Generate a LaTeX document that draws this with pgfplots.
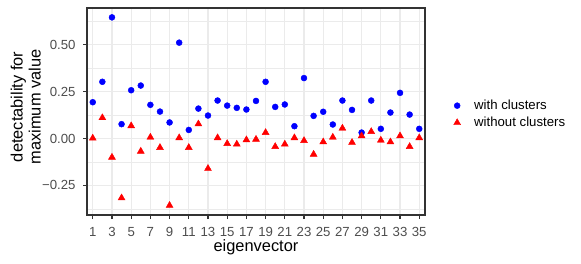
\documentclass[border=0pt]{standalone}
\usepackage{fontspec}
\setmainfont{Liberation Sans}
\usepackage{pgfplots}
\pgfplotsset{compat=1.18}
\definecolor{gridc}{HTML}{EBEBEB}
\definecolor{tickc}{HTML}{4D4D4D}
\definecolor{borderc}{HTML}{333333}
\begin{document}
\begin{tikzpicture}
\path[use as bounding box] (0,0) rectangle (581bp,264bp);
\begin{axis}[
  at={(87bp,49bp)}, anchor=south west,
  scale only axis, width=338bp, height=207bp,
  xmin=0.4, xmax=35.6, ymin=-0.408, ymax=0.697,
  xtick={1,3,...,35},
  ytick={-0.25,0,0.25,0.5},
  yticklabels={−0.25,0.00,0.25,0.50},
  minor ytick={-0.375,-0.125,0.125,0.375,0.625},
  grid=both,
  major grid style={gridc, line width=1.1bp},
  minor grid style={gridc, line width=0.55bp},
  axis line style={borderc, line width=1.1bp},
  tick style={borderc, line width=1.1bp},
  tick align=outside, major tick length=4bp, minor tick length=0pt,
  xtick pos=bottom, ytick pos=left,
  /pgf/number format/assume math mode=true,
  ticklabel style={font=\fontsize{13.2bp}{15bp}\selectfont, text=tickc},
  xticklabel style={anchor=base, yshift=-17bp},
  yticklabel style={anchor=east, xshift=-4bp},
  xlabel={eigenvector},
  ylabel={detectability for\\maximum value},
  label style={font=\fontsize{16.4bp}{18bp}\selectfont},
  xlabel style={at={(axis description cs:0.5,-0.176)}, anchor=base, inner sep=0pt},
  ylabel style={at={(axis description cs:-0.136,0.522)}, anchor=south, align=center, inner sep=0pt},
  legend image code/.code={\path[draw=none, fill=none] (0bp,0bp) -- (24bp,0bp); \draw[#1] plot coordinates {(9bp,0bp)};},
  legend style={draw=none, fill=none, inner sep=0pt, at={(axis description cs:1.068,0.487)}, anchor=west,
    font=\fontsize{13.2bp}{15bp}\selectfont, row sep=2bp, legend cell align=left},
]
\addlegendimage{only marks, mark=*, mark size=3bp, color=blue}
\addlegendentry{with clusters}
\addlegendimage{only marks, mark=triangle*, mark size=4bp, color=red}
\addlegendentry{without clusters}
\addplot[forget plot, only marks, mark=*, mark size=3bp, color=blue] coordinates {
(1,0.194) (2,0.303) (3,0.647) (4,0.077) (5,0.258) (6,0.283) (7,0.180) (8,0.144) (9,0.086) (10,0.512)
(11,0.046) (12,0.160) (13,0.123) (14,0.203) (15,0.176) (16,0.164) (17,0.155) (18,0.201) (19,0.303) (20,0.169)
(21,0.182) (22,0.066) (23,0.323) (24,0.121) (25,0.143) (26,0.075) (27,0.203) (28,0.153) (29,0.032) (30,0.203)
(31,0.052) (32,0.139) (33,0.244) (34,0.128) (35,0.052)
};
\addplot[forget plot, only marks, mark=triangle*, mark size=4bp, color=red] coordinates {
(1,0.002) (2,0.111) (3,-0.100) (4,-0.317) (5,0.068) (6,-0.068) (7,0.007) (8,-0.048) (9,-0.357) (10,0.004)
(11,-0.048) (12,0.078) (13,-0.160) (14,0.004) (15,-0.027) (16,-0.030) (17,-0.007) (18,-0.004) (19,0.032) (20,-0.043)
(21,-0.030) (22,0.004) (23,-0.011) (24,-0.084) (25,-0.018) (26,0.007) (27,0.055) (28,-0.021) (29,0.014) (30,0.037)
(31,-0.009) (32,-0.018) (33,0.014) (34,-0.043) (35,0.004)
};
\end{axis}
\end{tikzpicture}
\end{document}
